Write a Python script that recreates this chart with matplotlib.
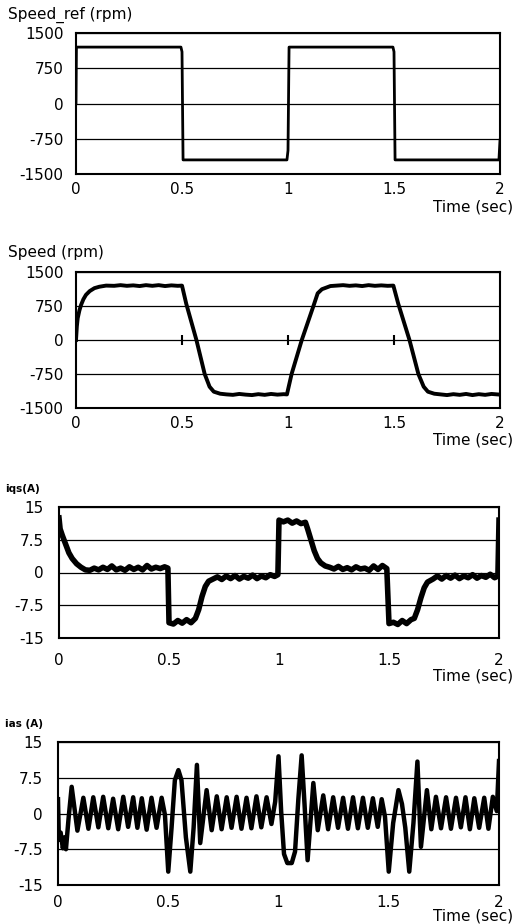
import matplotlib
matplotlib.use("Agg")
import matplotlib.pyplot as plt

plt.rcParams['font.family'] = ['DejaVu Sans']

time_ticks = [0, 0.5, 1, 1.5, 2]
time_labels = ['0', '0.5', '1', '1.5', '2']
speed_ticks = [-1500, -750, 0, 750, 1500]
speed_labels = ['-1500', '-750', '0', '750', '1500']
cur_ticks = [-15, -7.5, 0, 7.5, 15]
cur_labels = ['-15', '-7.5', '0', '7.5', '15']

# speed reference (rpm)
ref_t = [0, 0.002, 0.495, 0.5, 0.505, 0.995, 1.0, 1.005, 1.495, 1.5, 1.505, 1.995, 2.0]
ref_v = [0, 1200, 1200, 1100, -1200, -1200, -1000, 1200, 1200, 1100, -1200, -1200, -780]

# measured speed (rpm)
speed_t = [0, 0.004, 0.008, 0.016, 0.024, 0.035, 0.047, 0.065, 0.087, 0.11, 0.142, 0.18,
           0.21, 0.24, 0.27, 0.3, 0.33, 0.36, 0.39, 0.42, 0.45, 0.48, 0.5,
           0.52, 0.568, 0.607, 0.63, 0.65, 0.68, 0.71, 0.74, 0.77, 0.8, 0.83, 0.86,
           0.89, 0.92, 0.95, 0.98, 0.995,
           1.017, 1.065, 1.12, 1.14, 1.16, 1.2, 1.23, 1.26, 1.29, 1.32, 1.35, 1.38,
           1.41, 1.44, 1.47, 1.497,
           1.52, 1.573, 1.615, 1.64, 1.66, 1.69, 1.72, 1.75, 1.78, 1.81, 1.84, 1.87,
           1.9, 1.93, 1.96, 2.0]
speed_v = [0, 300, 480, 650, 775, 900, 996, 1080, 1144, 1175, 1200, 1195,
           1210, 1195, 1205, 1190, 1210, 1195, 1210, 1190, 1205, 1195, 1200,
           800, 0, -750, -1030, -1140, -1185, -1200, -1210, -1190, -1205, -1215, -1195,
           -1210, -1190, -1205, -1195, -1200,
           -750, 0, 750, 1030, 1120, 1190, 1200, 1210, 1195, 1205, 1190, 1210,
           1195, 1205, 1195, 1200,
           800, 0, -750, -1030, -1140, -1185, -1200, -1215, -1195, -1210, -1190, -1215,
           -1195, -1210, -1190, -1205]
zero_marks = [0.5, 1.0, 1.5]

# q-axis stator current (A)
iqs_t = [0, 0.005, 0.015, 0.03, 0.045, 0.06, 0.08, 0.1, 0.12, 0.14,
         0.16, 0.18, 0.2, 0.22, 0.24, 0.26, 0.28, 0.3, 0.32, 0.34, 0.36, 0.38,
         0.4, 0.42, 0.44, 0.46, 0.48, 0.495,
         0.5, 0.52, 0.54, 0.56, 0.58, 0.6, 0.62,
         0.635, 0.65, 0.665, 0.68, 0.7, 0.72, 0.74, 0.76, 0.78, 0.8, 0.82, 0.84,
         0.86, 0.88, 0.9, 0.92, 0.94, 0.96, 0.98, 0.995,
         1.0, 1.02, 1.04, 1.06, 1.08, 1.1, 1.12, 1.13,
         1.145, 1.16, 1.175, 1.19, 1.21, 1.23, 1.25, 1.27, 1.29, 1.31, 1.33, 1.35,
         1.37, 1.39, 1.41, 1.43, 1.45, 1.47, 1.49,
         1.5, 1.52, 1.54, 1.56, 1.58, 1.6, 1.615,
         1.63, 1.645, 1.66, 1.675, 1.7, 1.72, 1.74, 1.76, 1.78, 1.8, 1.82, 1.84,
         1.86, 1.88, 1.9, 1.92, 1.94, 1.96, 1.98, 1.995, 2.0]
iqs_v = [12.5, 10, 8.5, 6.5, 4.5, 3.2, 2.0, 1.2, 0.6, 0.5,
         1.0, 0.6, 1.2, 0.7, 1.5, 0.6, 1.0, 0.5, 1.3, 0.7, 1.2, 0.6,
         1.6, 0.8, 1.2, 0.9, 1.3, 1.0,
         -11.5, -11.8, -11.0, -11.6, -10.8, -11.5, -10.5,
         -8.5, -5.5, -3.2, -2.0, -1.5, -1.0, -1.6, -0.8, -1.4, -0.7, -1.5, -0.9,
         -1.3, -0.6, -1.4, -0.8, -1.2, -0.5, -0.9, -0.5,
         12.0, 11.6, 12.0, 11.3, 11.8, 11.2, 11.5, 10.0,
         7.5, 5.0, 3.2, 2.2, 1.5, 1.2, 0.8, 1.4, 0.7, 1.1, 0.6, 1.3,
         0.8, 1.0, 0.5, 1.5, 0.7, 1.6, 0.9,
         -11.7, -11.4, -11.9, -11.0, -11.7, -10.8, -10.5,
         -8.5, -5.8, -3.5, -2.2, -1.5, -0.8, -1.5, -0.7, -1.3, -0.6, -1.4, -0.8,
         -1.2, -0.5, -1.3, -0.7, -1.1, -0.4, -1.2, -0.8, 12.0]

# phase a stator current (A), peaks and troughs
ias_t = [0.0, 0.004, 0.012, 0.022, 0.03, 0.036, 0.048, 0.062, 0.088, 0.115,
         0.138, 0.16, 0.183, 0.205, 0.228, 0.25, 0.273, 0.296, 0.318, 0.341,
         0.36, 0.38, 0.402, 0.424, 0.447, 0.47, 0.485, 0.5, 0.515, 0.53,
         0.546, 0.56, 0.58, 0.6, 0.615, 0.63, 0.645, 0.674, 0.697, 0.72,
         0.742, 0.765, 0.787, 0.81, 0.832, 0.855, 0.877, 0.9, 0.922, 0.946,
         0.968, 0.985, 1.0, 1.012, 1.025, 1.04, 1.06, 1.075, 1.09, 1.105,
         1.118, 1.132, 1.158, 1.178, 1.203, 1.225, 1.248, 1.27, 1.293, 1.315,
         1.338, 1.36, 1.383, 1.405, 1.428, 1.45, 1.468, 1.483, 1.5, 1.52,
         1.544, 1.56, 1.575, 1.593, 1.612, 1.63, 1.646, 1.673, 1.693, 1.714,
         1.737, 1.76, 1.782, 1.805, 1.827, 1.848, 1.868, 1.888, 1.91, 1.933,
         1.952, 1.972, 1.99, 2.0]
ias_v = [3.0, -5.5, -4.0, -7.3, -5.0, -7.5, -1.0, 5.6, -3.6, 3.3,
         -3.2, 3.4, -2.9, 3.5, -3.1, 3.1, -3.3, 3.5, -2.8, 3.4,
         -3.0, 3.2, -3.4, 3.3, -3.0, 3.3, -0.3, -12.2, -3.0, 7.0,
         9.1, 7.0, -5.0, -12.2, -3.0, 10.2, -6.2, 4.9, -3.5, 3.6,
         -3.3, 3.4, -3.0, 3.5, -3.2, 3.3, -3.1, 3.6, -2.9, 3.4,
         -2.2, 2.5, 12.0, 0.5, -8.5, -10.4, -10.4, -8.0, 3.0, 12.2,
         2.0, -9.8, 6.4, -3.5, 3.8, -3.3, 3.4, -3.0, 3.3, -3.2,
         3.4, -3.1, 3.3, -3.0, 3.2, -2.8, 3.0, -0.7, -12.2, -2.0,
         4.9, 2.0, -3.0, -12.2, -2.0, 10.9, -7.0, 4.9, -3.3, 3.5,
         -3.1, 3.4, -3.2, 3.3, -2.9, 3.4, -3.3, 3.2, -3.0, 3.3,
         -3.2, 3.5, 0.5, 11.0]

W, H = 513, 924
fig = plt.figure(figsize=(W / 100, H / 100), dpi=100)


def make_axes(l, t, r, b, yticks, ylabels, ypad, xpad):
    ax = fig.add_axes([l / W, 1 - b / H, (r - l) / W, (b - t) / H])
    ax.set_xlim(0, 2)
    ax.set_ylim(yticks[0], yticks[-1])
    ax.set_xticks(time_ticks)
    ax.set_xticklabels(time_labels)
    ax.set_yticks(yticks)
    ax.set_yticklabels(ylabels)
    ax.tick_params(axis='y', length=0, pad=ypad, labelsize=11)
    ax.tick_params(axis='x', length=0, pad=xpad, labelsize=11)
    ax.yaxis.grid(True, color='black', lw=0.9)
    ax.set_axisbelow(True)
    for s in ax.spines.values():
        s.set_linewidth(1.5)
    return ax


def label(x, y, s, size=11, **kw):
    fig.text(x / W, 1 - y / H, s, fontsize=size, va='center', **kw)


ax1 = make_axes(76, 33, 500, 174, speed_ticks, speed_labels, 9, 6)
ax1.plot(ref_t, ref_v, color='black', lw=2.0)
label(8, 15, 'Speed_ref (rpm)')
label(513, 207, 'Time (sec)', ha='right')

ax2 = make_axes(76, 272, 500, 408, speed_ticks, speed_labels, 9, 6)
ax2.plot(speed_t, speed_v, color='black', lw=2.8)
ax2.plot(zero_marks, [0] * len(zero_marks), ls='none', marker='|', ms=7, mew=1.5, color='black')
label(8, 253, 'Speed (rpm)')
label(513, 440, 'Time (sec)', ha='right')

ax3 = make_axes(59, 507, 499, 638, cur_ticks, cur_labels, 11, 11)
ax3.plot(iqs_t, iqs_v, color='black', lw=4.0)
label(5, 489, 'iqs(A)', size=7.5, fontweight='bold')
label(513, 676, 'Time (sec)', ha='right')

ax4 = make_axes(58, 742, 499, 885, cur_ticks, cur_labels, 11, 7)
ax4.plot(ias_t, ias_v, color='black', lw=3.2)
label(5, 724, 'ias (A)', size=7.5, fontweight='bold')
label(513, 916, 'Time (sec)', ha='right')

fig.savefig('out.png', dpi=100)
